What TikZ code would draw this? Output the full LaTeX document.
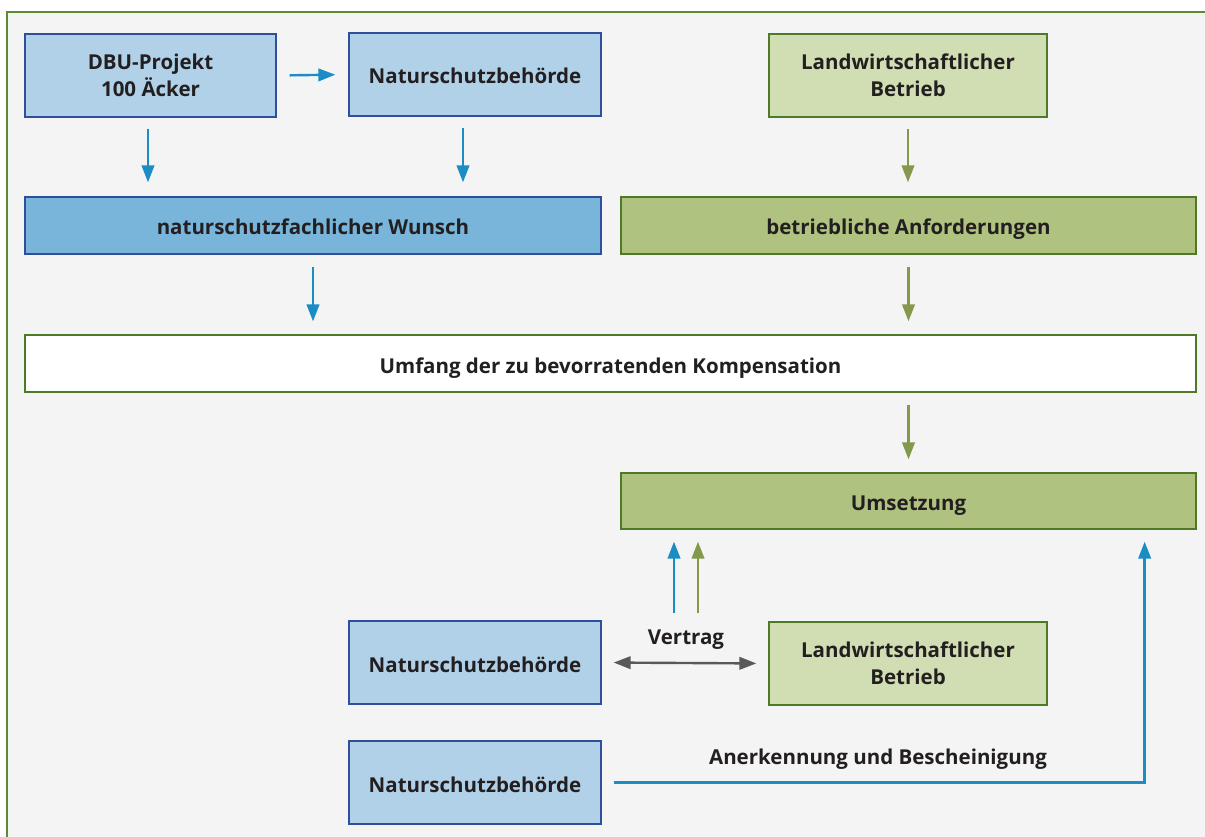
\documentclass[tikz,border=0pt]{standalone}
\usepackage{fontspec}
\setmainfont{Open Sans}
\usetikzlibrary{arrows.meta,calc}
\definecolor{bgc}{HTML}{F4F4F4}
\definecolor{framec}{HTML}{5E8A34}
\definecolor{lblue}{HTML}{B1D1E8}
\definecolor{mblue}{HTML}{79B5DA}
\definecolor{dblue}{HTML}{2F4F9A}
\definecolor{ablue}{HTML}{1B8DC4}
\definecolor{lgreen}{HTML}{D1DDB2}
\definecolor{mgreen}{HTML}{AFC280}
\definecolor{dgreen}{HTML}{4E7A27}
\definecolor{agreen}{HTML}{84994B}
\definecolor{agray}{HTML}{58595B}
\definecolor{txt}{HTML}{231F20}
\tikzset{
  box/.style={draw, line width=1.3pt, inner sep=0pt, align=center, text=txt,
    font=\fontsize{20.5}{27.5}\selectfont\bfseries},
  oneline/.style={text height=19pt, text depth=0pt},
  bluebox/.style={box, draw=dblue, fill=lblue},
  bluebox2/.style={box, draw=dblue, fill=mblue},
  greenbox/.style={box, draw=dgreen, fill=lgreen},
  greenbox2/.style={box, draw=dgreen, fill=mgreen},
  whitebox/.style={box, draw=dgreen, fill=white},
  arr/.style={line width=2.4pt, -{Triangle[length=17pt,width=12.5pt]}},
  barrow/.style={arr, draw=ablue},
  garrow/.style={arr, draw=agreen},
  lbl/.style={text=txt, font=\fontsize{20.5}{27}\selectfont\bfseries, anchor=base},
}
\begin{document}
\begin{tikzpicture}[x=1pt,y=-1pt]
\useasboundingbox (0,0) rectangle (1205,837);
\begin{scope}
\clip (0,0) rectangle (1205,837);
\draw[framec, line width=1.3pt, fill=bgc] (7,12) rectangle (1215,850);
\end{scope}
% boxes
\node[bluebox, minimum width=251pt, minimum height=83pt] (dbu) at (150.5,75.5) {DBU-Projekt\\100 Äcker};
\node[bluebox, oneline, minimum width=252pt, minimum height=83pt] (nbt) at (475,74.5) {Naturschutzbehörde};
\node[greenbox, minimum width=278pt, minimum height=83pt] (lbt) at (908,75.5) {Landwirtschaftlicher\\Betrieb};
\node[bluebox2, oneline, minimum width=576pt, minimum height=57pt] (wunsch) at (313,225.5) {naturschutzfachlicher Wunsch};
\node[greenbox2, oneline, minimum width=575pt, minimum height=57pt] (anf) at (908.5,225.5) {betriebliche Anforderungen};
\node[whitebox, oneline, minimum width=1171pt, minimum height=57pt] (umfang) at (610.5,363.5) {Umfang der zu bevorratenden Kompensation};
\node[greenbox2, oneline, minimum width=575pt, minimum height=56pt] (ums) at (908.5,501) {Umsetzung};
\node[bluebox, oneline, minimum width=252pt, minimum height=83pt] (nbm) at (475,662.5) {Naturschutzbehörde};
\node[greenbox, minimum width=278pt, minimum height=83pt] (lbm) at (908,663.5) {Landwirtschaftlicher\\Betrieb};
\node[bluebox, oneline, minimum width=252pt, minimum height=83pt] (nbb) at (475,782.5) {Naturschutzbehörde};
% arrows
\draw[barrow, shorten <=13pt, shorten >=13pt] (dbu.east) -- (nbt.west);
\draw[barrow, shorten <=11pt, shorten >=14pt] ([xshift=-2.5pt]dbu.south) -- ([xshift=-2.5pt]dbu.south |- wunsch.north);
\draw[barrow, shorten <=11pt, shorten >=14pt] ([xshift=-12pt]nbt.south) -- ([xshift=-12pt]nbt.south |- wunsch.north);
\draw[garrow, shorten <=11pt, shorten >=14pt] (lbt.south) -- (lbt.south |- anf.north);
\draw[barrow, shorten <=12pt, shorten >=13pt] (wunsch.south) -- (wunsch.south |- umfang.north);
\draw[garrow, shorten <=12pt, shorten >=13pt] (anf.south) -- (anf.south |- umfang.north);
\draw[garrow, shorten <=12pt, shorten >=13pt] (ums.north |- umfang.south) -- (ums.north);
\coordinate (v1) at (674,613);
\coordinate (v2) at (698,613);
\draw[barrow, shorten >=12pt] (v1) -- (v1 |- ums.south);
\draw[garrow, shorten >=12pt] (v2) -- (v2 |- ums.south);
\draw[line width=2.4pt, draw=agray, {Triangle[length=17pt,width=12.5pt]}-{Triangle[length=17pt,width=12.5pt]}, shorten <=12pt, shorten >=12pt] (nbm.east) -- (lbm.west);
\node[lbl] (vertrag) at (686,644) {Vertrag};
\draw[barrow, shorten <=12pt, shorten >=12pt] (nbb.east) -| ([xshift=-52pt]ums.south east);
\node[lbl] (anerk) at (878,764) {Anerkennung und Bescheinigung};
\end{tikzpicture}
\end{document}
